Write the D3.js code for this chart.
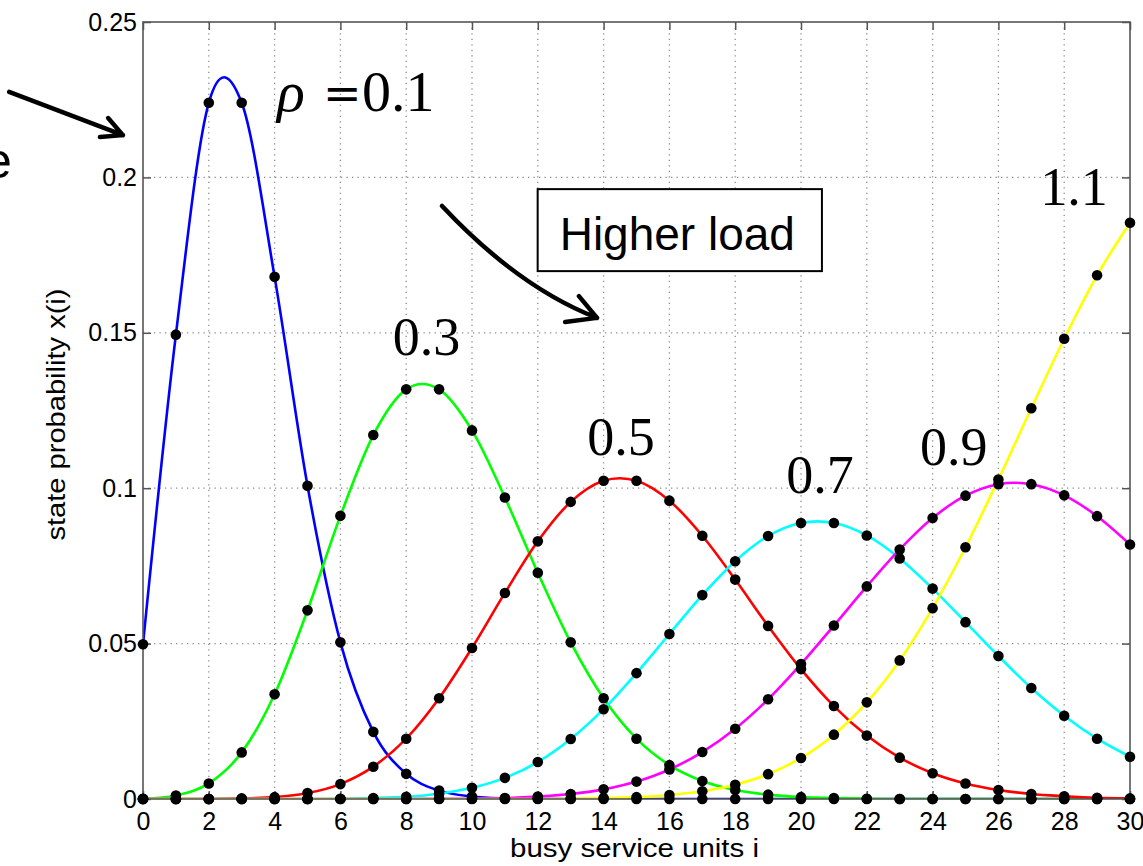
<!DOCTYPE html>
<html>
<head>
<meta charset="utf-8">
<script src="https://cdn.jsdelivr.net/npm/d3@7"></script>
<style>
  body { margin: 0; background: #fff; }
</style>
</head>
<body>
<div id="chart"></div>
<script>
'use strict';

// busy service units i (x categories)
const units = [0, 1, 2, 3, 4, 5, 6, 7, 8, 9, 10, 11, 12, 13, 14, 15, 16, 17, 18, 19, 20, 21, 22, 23, 24, 25, 26, 27, 28, 29, 30];

// state probability x(i), one array per load
const rho01 = [0.0498, 0.1494, 0.2240, 0.2240, 0.1680, 0.1008, 0.0504, 0.0216, 0.0081, 0.0027, 0.0008, 0.0002, 0.0001, 0, 0, 0, 0, 0, 0, 0, 0, 0, 0, 0, 0, 0, 0, 0, 0, 0, 0];
const rho03 = [0.0001, 0.0011, 0.0050, 0.0150, 0.0337, 0.0607, 0.0911, 0.1171, 0.1318, 0.1318, 0.1186, 0.0970, 0.0728, 0.0504, 0.0324, 0.0194, 0.0109, 0.0058, 0.0029, 0.0014, 0.0006, 0.0003, 0.0001, 0, 0, 0, 0, 0, 0, 0, 0];
const rho05 = [0, 0, 0, 0.0002, 0.0006, 0.0019, 0.0048, 0.0104, 0.0194, 0.0324, 0.0486, 0.0663, 0.0829, 0.0956, 0.1024, 0.1024, 0.0960, 0.0847, 0.0706, 0.0557, 0.0418, 0.0299, 0.0204, 0.0133, 0.0083, 0.0050, 0.0029, 0.0016, 0.0009, 0.0004, 0.0002];
const rho07 = [0, 0, 0, 0, 0, 0, 0.0001, 0.0003, 0.0007, 0.0017, 0.0036, 0.0068, 0.0119, 0.0193, 0.0289, 0.0405, 0.0531, 0.0656, 0.0765, 0.0846, 0.0888, 0.0888, 0.0848, 0.0774, 0.0677, 0.0569, 0.0460, 0.0357, 0.0268, 0.0194, 0.0136];
const rho09 = [0, 0, 0, 0, 0, 0, 0, 0, 0, 0.0001, 0.0001, 0.0003, 0.0008, 0.0016, 0.0031, 0.0056, 0.0095, 0.0151, 0.0226, 0.0321, 0.0434, 0.0558, 0.0684, 0.0803, 0.0904, 0.0976, 0.1013, 0.1013, 0.0977, 0.0910, 0.0819];
const rho11 = [0, 0, 0, 0, 0, 0, 0, 0, 0, 0, 0, 0, 0, 0.0001, 0.0003, 0.0006, 0.0013, 0.0025, 0.0046, 0.0080, 0.0132, 0.0207, 0.0311, 0.0446, 0.0614, 0.0810, 0.1028, 0.1257, 0.1481, 0.1685, 0.1854];

const loads = ['0.1', '0.3', '0.5', '0.7', '0.9', '1.1'];
const seriesValues = [rho01, rho03, rho05, rho07, rho09, rho11];
const colors = ['#0000ff', '#00ff00', '#ff0000', '#00ffff', '#ff00ff', '#ffff00'];

const xTicks = [0, 2, 4, 6, 8, 10, 12, 14, 16, 18, 20, 22, 24, 26, 28, 30];
const yTicks = [0, 0.05, 0.1, 0.15, 0.2, 0.25];
const yTickLabels = ['0', '0.05', '0.1', '0.15', '0.2', '0.25'];

const width = 1143;
const height = 866;
const margin = { top: 22, right: 13, bottom: 67, left: 143 };

const svg = d3.select('#chart')
  .append('svg')
  .attr('width', width)
  .attr('height', height);

const x = d3.scaleLinear()
  .domain([0, 30])
  .range([margin.left, width - margin.right]);

const y = d3.scaleLinear()
  .domain([0, 0.25])
  .range([height - margin.bottom, margin.top]);

const axisColor = '#555';
const tickFont = '"Liberation Sans", Arial, sans-serif';

// dotted grid
const grid = svg.append('g').attr('class', 'grid')
  .attr('stroke', '#8c8c8c')
  .attr('stroke-width', 1.3)
  .attr('stroke-dasharray', '1.3,4.2');

grid.selectAll('line.gx')
  .data(xTicks.slice(1, -1))
  .join('line')
  .attr('class', 'gx')
  .attr('x1', (d) => x(d)).attr('x2', (d) => x(d))
  .attr('y1', y(0)).attr('y2', y(0.25));

grid.selectAll('line.gy')
  .data(yTicks.slice(1, -1))
  .join('line')
  .attr('class', 'gy')
  .attr('y1', (d) => y(d)).attr('y2', (d) => y(d))
  .attr('x1', x(0)).attr('x2', x(30));

// axes, MATLAB style: ticks inside on all four sides
const styleAxis = (g) => {
  g.select('.domain').remove();
  g.selectAll('.tick line').attr('stroke', axisColor).attr('stroke-width', 1.5);
  g.selectAll('.tick text')
    .attr('fill', '#000')
    .style('font-family', tickFont)
    .style('font-size', '25px');
};

svg.append('g')
  .attr('transform', `translate(0, ${y(0)})`)
  .call(d3.axisBottom(x).tickValues(xTicks).tickSizeInner(-8).tickSizeOuter(0).tickPadding(13))
  .call(styleAxis);

svg.append('g')
  .attr('transform', `translate(0, ${y(0.25)})`)
  .call(d3.axisTop(x).tickValues(xTicks).tickSizeInner(-8).tickSizeOuter(0).tickFormat(''))
  .call(styleAxis);

svg.append('g')
  .attr('transform', `translate(${x(0)}, 0)`)
  .call(d3.axisLeft(y).tickValues(yTicks).tickSizeInner(-8).tickSizeOuter(0).tickPadding(6)
    .tickFormat((d, i) => yTickLabels[i]))
  .call(styleAxis);

svg.append('g')
  .attr('transform', `translate(${x(30)}, 0)`)
  .call(d3.axisRight(y).tickValues(yTicks).tickSizeInner(-8).tickSizeOuter(0).tickFormat(''))
  .call(styleAxis);

// clip for the curves
svg.append('clipPath')
  .attr('id', 'plot-clip')
  .append('rect')
  .attr('x', x(0)).attr('y', y(0.25))
  .attr('width', x(30) - x(0)).attr('height', y(0) - y(0.25));

// uniform Catmull-Rom so the peaks bulge between the points like the original
const line = d3.line()
  .x((d) => x(d[0]))
  .y((d) => y(d[1]))
  .curve(d3.curveCatmullRom.alpha(0));

const series = seriesValues.map((vals, k) => ({
  load: loads[k],
  color: colors[k],
  points: units.map((u, i) => [u, vals[i]]),
}));

svg.append('g')
  .attr('clip-path', 'url(#plot-clip)')
  .selectAll('path')
  .data(series)
  .join('path')
  .attr('fill', 'none')
  .attr('stroke', (d) => d.color)
  .attr('stroke-width', 2.6)
  .attr('d', (d) => line(d.points));

// axis box
svg.append('rect')
  .attr('x', x(0)).attr('y', y(0.25))
  .attr('width', x(30) - x(0)).attr('height', y(0) - y(0.25))
  .attr('fill', 'none')
  .attr('stroke', axisColor)
  .attr('stroke-width', 1.6);

// black markers at every integer state
svg.append('g')
  .selectAll('g')
  .data(series)
  .join('g')
  .selectAll('circle')
  .data((d) => d.points)
  .join('circle')
  .attr('cx', (d) => x(d[0]))
  .attr('cy', (d) => y(d[1]))
  .attr('r', 5.3)
  .attr('fill', '#000');

// axis labels
svg.append('text')
  .attr('x', (x(0) + x(30)) / 2 - 2)
  .attr('y', 857)
  .attr('text-anchor', 'middle')
  .attr('textLength', 249)
  .attr('lengthAdjust', 'spacingAndGlyphs')
  .style('font-family', tickFont)
  .style('font-size', '25px')
  .text('busy service units i');

svg.append('text')
  .attr('transform', `translate(65, ${(y(0) + y(0.25)) / 2 + 4}) rotate(-90)`)
  .attr('text-anchor', 'middle')
  .attr('textLength', 252)
  .attr('lengthAdjust', 'spacingAndGlyphs')
  .style('font-family', tickFont)
  .style('font-size', '25px')
  .text('state probability x(i)');

// load labels, placed in data units
const serif = '"Liberation Serif", "Times New Roman", serif';
const labelAt = [[4.07, 0.2214], [8.62, 0.1429], [14.53, 0.1107], [20.58, 0.0985], [24.64, 0.1075], [28.30, 0.1911]];

const rhoX = x(labelAt[0][0]);
const rhoY = y(labelAt[0][1]);

svg.append('text')
  .attr('x', rhoX).attr('y', rhoY)
  .style('font-family', serif)
  .style('font-size', '58px')
  .style('font-style', 'italic')
  .text('ρ');
// wide equals sign, as in the TeX-style original
svg.append('text')
  .attr('x', rhoX + 46).attr('y', rhoY - 2)
  .style('font-family', '"DejaVu Serif", serif')
  .style('font-size', '46px')
  .text('=');
svg.append('text')
  .attr('x', rhoX + 85).attr('y', rhoY)
  .style('font-family', serif)
  .style('font-size', '58px')
  .text(loads[0]);

svg.selectAll('text.load')
  .data(loads.slice(1))
  .join('text')
  .attr('class', 'load')
  .attr('x', (d, i) => x(labelAt[i + 1][0]))
  .attr('y', (d, i) => y(labelAt[i + 1][1]))
  .attr('text-anchor', 'middle')
  .style('font-family', serif)
  .style('font-size', '54px')
  .text((d) => d);

// "Higher load" call-out
const callout = svg.append('g');
const boxRect = callout.append('rect');
const boxText = callout.append('text')
  .attr('x', x(16.24))
  .attr('y', y(0.1766))
  .attr('text-anchor', 'middle')
  .style('font-family', tickFont)
  .style('font-size', '46px')
  .text('Higher load');

const bb = boxText.node().getBBox();
boxRect
  .attr('x', bb.x - 22)
  .attr('y', bb.y - 19)
  .attr('width', bb.width + 49)
  .attr('height', bb.height + 30)
  .attr('fill', '#fff')
  .attr('stroke', '#000')
  .attr('stroke-width', 2);

// arrows (annotation points in data units)
const arrowStyle = (sel) => sel
  .attr('fill', 'none')
  .attr('stroke', '#000')
  .attr('stroke-width', 4.5)
  .attr('stroke-linecap', 'round');

const curveStart = [9.09, 0.1908];
const curveCtrl = [11.40, 0.1647];
const curveTip = [13.80, 0.1548];
const curveHeads = [[12.83, 0.1535], [13.25, 0.1618]];

const bent = d3.path();
bent.moveTo(x(curveStart[0]), y(curveStart[1]));
bent.quadraticCurveTo(x(curveCtrl[0]), y(curveCtrl[1]), x(curveTip[0]), y(curveTip[1]));
curveHeads.forEach((h) => {
  bent.moveTo(x(h[0]), y(h[1]));
  bent.lineTo(x(curveTip[0]), y(curveTip[1]));
});
svg.append('path').attr('d', bent.toString()).call(arrowStyle);

const straightStart = [-4.07, 0.2275];
const straightTip = [-0.61, 0.2136];
const straightHeads = [[-1.31, 0.2130], [-1.06, 0.2191]];

const straight = d3.path();
straight.moveTo(x(straightStart[0]), y(straightStart[1]));
straight.lineTo(x(straightTip[0]), y(straightTip[1]));
straightHeads.forEach((h) => {
  straight.moveTo(x(h[0]), y(h[1]));
  straight.lineTo(x(straightTip[0]), y(straightTip[1]));
});
svg.append('path').attr('d', straight.toString()).call(arrowStyle);

// word cut off at the left edge of the slide, as in the original
svg.append('text')
  .attr('x', x(-4.83))
  .attr('y', y(0.1998))
  .style('font-family', tickFont)
  .style('font-size', '50px')
  .text('e');
</script>
</body>
</html>
